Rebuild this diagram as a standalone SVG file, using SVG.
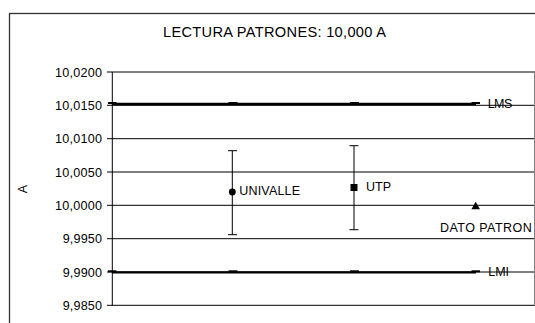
<svg xmlns="http://www.w3.org/2000/svg" width="535" height="323" viewBox="0 0 535 323">
<style>
text{font-family:"Liberation Sans",Arial,sans-serif;fill:#000}
.grid{stroke:#000;stroke-width:1;fill:none}
.tick{stroke:#000;stroke-width:1}
.ylab{font-size:12.6px;text-anchor:end}
.lab{font-size:12.5px}
.lim{stroke:#000;stroke-width:2.3;fill:none}
.dash{stroke:#000;stroke-width:2}
.err{stroke:#000;stroke-width:1;fill:none}
</style>
<rect x="0" y="0" width="535" height="323" fill="#fff"/>
<rect id="frame" x="9.5" y="13.5" width="540" height="320" fill="none" stroke="#333" stroke-width="1.3"/>
<text id="title" x="274.5" y="37" font-size="14.6" text-anchor="middle" textLength="223" lengthAdjust="spacing">LECTURA PATRONES: 10,000 A</text>
<g id="grid">
<line class="grid" x1="112" y1="72" x2="535" y2="72"/>
<line class="grid" x1="112" y1="105.3" x2="535" y2="105.3"/>
<line class="grid" x1="112" y1="138.7" x2="535" y2="138.7"/>
<line class="grid" x1="112" y1="172" x2="535" y2="172"/>
<line class="grid" x1="112" y1="205.3" x2="535" y2="205.3"/>
<line class="grid" x1="112" y1="238.7" x2="535" y2="238.7"/>
<line class="grid" x1="112" y1="272" x2="535" y2="272"/>
<line class="grid" x1="112" y1="305.3" x2="535" y2="305.3"/>
<line x1="534.5" y1="72" x2="534.5" y2="305.3" stroke="#808080" stroke-width="1"/>
</g>
<g id="yaxis">
<line class="tick" x1="112.3" y1="72" x2="112.3" y2="305.3"/>
<line class="tick" x1="107" y1="72" x2="112" y2="72"/>
<line class="tick" x1="107" y1="105.3" x2="112" y2="105.3"/>
<line class="tick" x1="107" y1="138.7" x2="112" y2="138.7"/>
<line class="tick" x1="107" y1="172" x2="112" y2="172"/>
<line class="tick" x1="107" y1="205.3" x2="112" y2="205.3"/>
<line class="tick" x1="107" y1="238.7" x2="112" y2="238.7"/>
<line class="tick" x1="107" y1="272" x2="112" y2="272"/>
<line class="tick" x1="107" y1="305.3" x2="112" y2="305.3"/>
<text class="ylab" x="102" y="76.5" textLength="47" lengthAdjust="spacing">10,0200</text>
<text class="ylab" x="102" y="109.8" textLength="47" lengthAdjust="spacing">10,0150</text>
<text class="ylab" x="102" y="143.2" textLength="47" lengthAdjust="spacing">10,0100</text>
<text class="ylab" x="102" y="176.5" textLength="47" lengthAdjust="spacing">10,0050</text>
<text class="ylab" x="102" y="209.8" textLength="47" lengthAdjust="spacing">10,0000</text>
<text class="ylab" x="102" y="243.2" textLength="39.3" lengthAdjust="spacing">9,9950</text>
<text class="ylab" x="102" y="276.5" textLength="39.3" lengthAdjust="spacing">9,9900</text>
<text class="ylab" x="102" y="309.8" textLength="39.3" lengthAdjust="spacing">9,9850</text>
<text x="26.7" y="189" font-size="12.5" text-anchor="middle" transform="rotate(-90 26.7 189)">A</text>
</g>
<g id="LMS">
<line class="lim" x1="112" y1="104" x2="476" y2="104"/>
<line class="dash" x1="108" y1="103" x2="116.5" y2="103"/>
<line class="dash" x1="228.5" y1="103" x2="237.5" y2="103"/>
<line class="dash" x1="350" y1="103" x2="359" y2="103"/>
<line class="dash" x1="471.5" y1="103" x2="480" y2="103"/>
<text class="lab" x="487.7" y="108" textLength="24.6" lengthAdjust="spacing">LMS</text>
</g>
<g id="LMI">
<line class="lim" x1="112" y1="272.3" x2="476" y2="272.3"/>
<line class="dash" x1="108" y1="271.3" x2="116.5" y2="271.3"/>
<line class="dash" x1="228.5" y1="271.3" x2="237.5" y2="271.3"/>
<line class="dash" x1="350" y1="271.3" x2="359" y2="271.3"/>
<line class="dash" x1="471.5" y1="271.3" x2="480" y2="271.3"/>
<text class="lab" x="488.3" y="276.3" textLength="20.7" lengthAdjust="spacing">LMI</text>
</g>
<g id="UNIVALLE">
<line class="err" x1="232.3" y1="150.7" x2="232.3" y2="234.7"/>
<line class="err" x1="228" y1="150.7" x2="237" y2="150.7"/>
<line class="err" x1="228" y1="234.7" x2="237" y2="234.7"/>
<circle cx="232.3" cy="192" r="3.4" fill="#000"/>
<text class="lab" x="239.3" y="195" textLength="60.7" lengthAdjust="spacing">UNIVALLE</text>
</g>
<g id="UTP">
<line class="err" x1="354" y1="145.7" x2="354" y2="229.7"/>
<line class="err" x1="349.5" y1="145.7" x2="358.5" y2="145.7"/>
<line class="err" x1="349.5" y1="229.7" x2="358.5" y2="229.7"/>
<rect x="350.5" y="184" width="7" height="7" fill="#000"/>
<text class="lab" x="366" y="190.6" textLength="25" lengthAdjust="spacing">UTP</text>
</g>
<g id="DATO_PATRON">
<polygon points="475.7,201.8 480,209.3 471.4,209.3" fill="#000"/>
<text class="lab" x="440" y="231.7" textLength="91.7" lengthAdjust="spacing">DATO PATRON</text>
</g>
</svg>
